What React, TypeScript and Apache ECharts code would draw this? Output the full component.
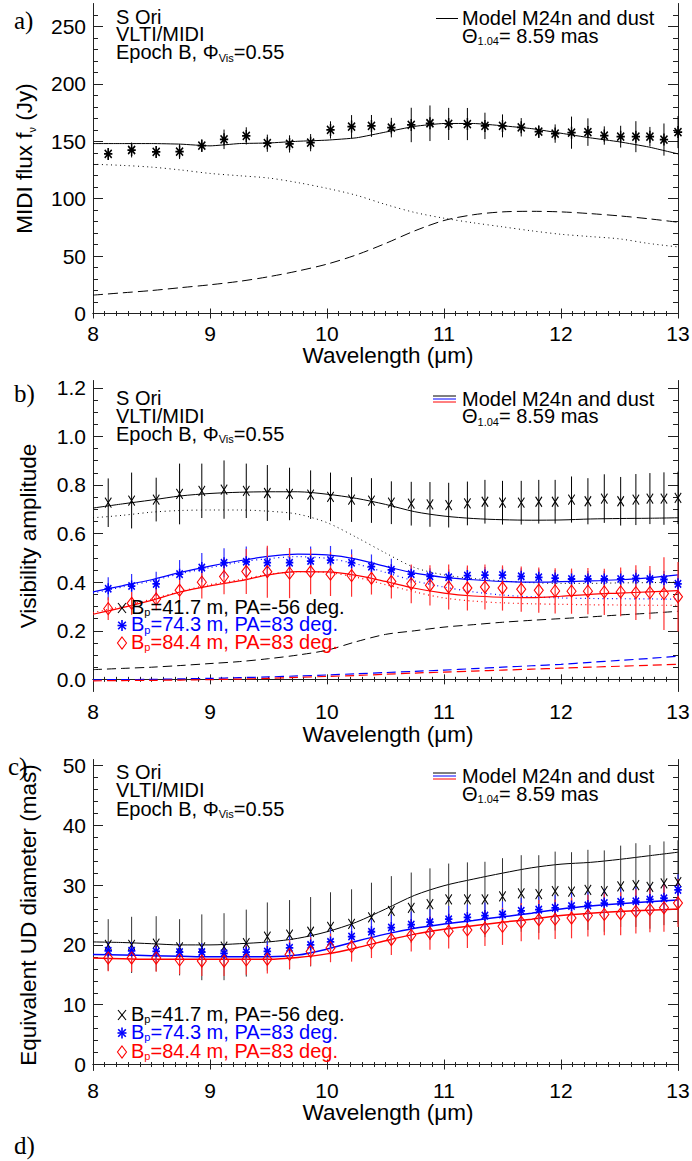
import React, { useEffect, useRef } from "react";
import * as echarts from "echarts";

const FONT = "Liberation Sans, Arial, Helvetica, sans-serif";
const SERIF = "Liberation Serif, Times New Roman, serif";

// Observed wavelengths (µm)
const wl = [8.13, 8.33, 8.54, 8.74, 8.93, 9.12, 9.31, 9.49, 9.68, 9.86, 10.03, 10.21, 10.38, 10.55, 10.72, 10.88, 11.04, 11.2, 11.35, 11.5, 11.66, 11.81, 11.95, 12.09, 12.23, 12.37, 12.51, 12.64, 12.76, 12.88, 13.0];

// Panel a: MIDI flux (Jy)
const fluxObs = [139, 142.4, 140.7, 141, 146.2, 151.7, 154.7, 148.3, 147.7, 148.8, 159.9, 162.8, 163.4, 161.9, 164.2, 165.7, 165.1, 165, 163.4, 163.4, 162.2, 158.4, 156.7, 157.5, 158, 155, 154, 154, 154, 151.5, 158];
const fluxErr = [5, 6.5, 5, 6.5, 5.5, 8.5, 7.5, 7.5, 7.5, 7.5, 7.5, 10, 9.5, 8.5, 15, 15.5, 14, 14, 11.5, 10, 8, 5.5, 8, 14, 12, 8, 9.5, 13.5, 8.5, 14, 14];

// Model wavelength grid (µm)
const mwl = [8.0, 8.25, 8.5, 8.75, 9.0, 9.25, 9.5, 9.75, 10.0, 10.25, 10.5, 10.75, 11.0, 11.25, 11.5, 11.75, 12.0, 12.25, 12.5, 12.75, 13.0];
const fluxModel = [148, 148, 148, 147.5, 146, 148, 148.5, 150, 151, 153, 158, 163, 165.5, 165.5, 163.5, 161, 157, 153, 149.5, 145, 139];
const fluxStar = [130, 129, 127.5, 125, 122, 120, 118, 114, 109, 103, 95, 88, 83, 79, 75.5, 72, 69, 67, 65, 61, 58];
const fluxDust = [16, 18, 20, 22.5, 25, 28, 32, 37, 43, 51, 61, 72, 81, 86, 88.5, 89, 88.5, 87, 85, 82.5, 79.5];

// Panel b: visibility amplitude
const visK = [0.727, 0.736, 0.74, 0.763, 0.776, 0.781, 0.776, 0.767, 0.763, 0.76, 0.751, 0.74, 0.736, 0.727, 0.723, 0.72, 0.717, 0.724, 0.731, 0.727, 0.727, 0.731, 0.731, 0.74, 0.733, 0.744, 0.733, 0.74, 0.744, 0.744, 0.747];
const visKErr = [0.1, 0.115, 0.09, 0.125, 0.112, 0.12, 0.112, 0.115, 0.108, 0.1, 0.1, 0.092, 0.092, 0.088, 0.09, 0.092, 0.092, 0.09, 0.09, 0.09, 0.09, 0.09, 0.09, 0.095, 0.095, 0.1, 0.1, 0.105, 0.105, 0.108, 0.108];
const visB = [0.373, 0.384, 0.393, 0.433, 0.46, 0.48, 0.484, 0.48, 0.48, 0.487, 0.491, 0.48, 0.464, 0.451, 0.433, 0.424, 0.42, 0.427, 0.429, 0.429, 0.424, 0.42, 0.417, 0.413, 0.413, 0.413, 0.413, 0.416, 0.413, 0.411, 0.393];
const visBErr = [0.047, 0.05, 0.05, 0.058, 0.06, 0.06, 0.063, 0.063, 0.06, 0.06, 0.058, 0.055, 0.05, 0.045, 0.035, 0.033, 0.033, 0.033, 0.033, 0.033, 0.033, 0.033, 0.033, 0.033, 0.033, 0.033, 0.033, 0.035, 0.035, 0.035, 0.04];
const visR = [0.291, 0.313, 0.331, 0.367, 0.4, 0.423, 0.444, 0.443, 0.437, 0.443, 0.433, 0.427, 0.416, 0.403, 0.393, 0.387, 0.38, 0.376, 0.38, 0.376, 0.371, 0.367, 0.364, 0.363, 0.363, 0.36, 0.36, 0.357, 0.357, 0.353, 0.34];
const visRErr = [0.047, 0.047, 0.047, 0.05, 0.067, 0.073, 0.093, 0.107, 0.103, 0.093, 0.09, 0.087, 0.067, 0.07, 0.08, 0.083, 0.093, 0.093, 0.093, 0.093, 0.093, 0.093, 0.093, 0.093, 0.095, 0.095, 0.1, 0.113, 0.11, 0.15, 0.143];

const visModelK = [0.705, 0.722, 0.738, 0.755, 0.765, 0.77, 0.772, 0.772, 0.762, 0.745, 0.72, 0.69, 0.672, 0.662, 0.657, 0.655, 0.656, 0.66, 0.662, 0.663, 0.665];
const visStarK = [0.665, 0.675, 0.688, 0.695, 0.697, 0.697, 0.692, 0.68, 0.645, 0.585, 0.52, 0.46, 0.43, 0.415, 0.405, 0.398, 0.395, 0.395, 0.397, 0.398, 0.4];
const visDustK = [0.04, 0.045, 0.05, 0.057, 0.065, 0.073, 0.085, 0.1, 0.12, 0.155, 0.185, 0.2, 0.215, 0.225, 0.235, 0.243, 0.25, 0.257, 0.265, 0.272, 0.28];
const visModelB = [0.36, 0.385, 0.41, 0.44, 0.466, 0.488, 0.506, 0.515, 0.512, 0.495, 0.465, 0.437, 0.42, 0.41, 0.403, 0.4, 0.402, 0.405, 0.41, 0.418, 0.43];
const visStarB = [0.355, 0.38, 0.405, 0.435, 0.46, 0.482, 0.497, 0.505, 0.498, 0.475, 0.44, 0.405, 0.38, 0.36, 0.347, 0.34, 0.335, 0.333, 0.332, 0.331, 0.33];
const visDustB = [-0.002, -0.001, 0.0, 0.002, 0.004, 0.007, 0.01, 0.014, 0.018, 0.023, 0.028, 0.033, 0.038, 0.044, 0.05, 0.056, 0.062, 0.07, 0.078, 0.086, 0.095];
const visModelR = [0.268, 0.295, 0.325, 0.36, 0.385, 0.405, 0.43, 0.443, 0.442, 0.428, 0.403, 0.375, 0.355, 0.343, 0.338, 0.336, 0.342, 0.35, 0.355, 0.36, 0.365];
const visStarR = [0.275, 0.3, 0.33, 0.362, 0.39, 0.41, 0.432, 0.443, 0.44, 0.42, 0.39, 0.36, 0.335, 0.322, 0.315, 0.311, 0.309, 0.307, 0.306, 0.305, 0.305];
const visDustR = [-0.006, -0.005, -0.004, -0.003, -0.001, 0.001, 0.004, 0.008, 0.012, 0.016, 0.021, 0.026, 0.03, 0.034, 0.038, 0.042, 0.046, 0.05, 0.054, 0.058, 0.062];

// Panel c: equivalent UD diameter (mas)
const udK = [20, 20, 20.2, 19.6, 19.6, 19.7, 20.3, 21.4, 21.7, 22.2, 23, 23.5, 24.6, 25.7, 26.2, 26.8, 27.6, 27.6, 27.6, 28.1, 28.6, 28.5, 29, 28.9, 29.2, 29, 29.8, 30, 29.7, 30.3, 30.5];
const udKErr = [4.3, 4.7, 4.6, 4.7, 5.5, 5.6, 5.6, 5.7, 5.8, 5.8, 5.8, 5.8, 5.8, 5.8, 5.9, 6, 6, 6.2, 6.3, 6.4, 6.4, 6.5, 6.6, 6.6, 6.7, 6.8, 6.8, 7, 7, 7, 7];
const udB = [19, 19, 18.9, 18.8, 18.8, 18.6, 18.8, 18.9, 19.5, 20, 20.5, 21.4, 22.2, 22.9, 23.4, 23.8, 24.3, 24.6, 24.9, 25.1, 25.7, 25.9, 26.2, 26.5, 26.6, 27, 27.2, 27.3, 27.6, 27.8, 29.2];
const udBErr = [1.5, 1.5, 1.5, 1.5, 1.5, 1.5, 1.6, 1.7, 1.9, 2.1, 2.2, 2.2, 2.2, 2.2, 2.2, 2.2, 2.2, 2.2, 2.2, 2.2, 2.2, 2.2, 2.2, 2.2, 2.3, 2.3, 2.3, 2.4, 2.4, 2.5, 2.6];
const udR = [17.8, 17.8, 17.8, 17.5, 17.3, 17.3, 17.5, 17.6, 18.4, 18.9, 19.5, 19.7, 20.3, 20.9, 21.6, 22, 22.3, 22.5, 22.8, 23.1, 23.8, 24.2, 24.3, 24.5, 24.9, 25.1, 25.2, 25.6, 25.9, 26.2, 27];
const udRErr = [2.2, 2.3, 2.3, 2.4, 2.5, 2.5, 2.5, 2.4, 2.4, 2.4, 2.4, 2.5, 2.5, 2.6, 2.7, 2.8, 2.9, 3, 3, 3.1, 3.2, 3.3, 3.3, 3.4, 3.5, 3.5, 3.6, 3.7, 3.8, 4, 4];
const udModelK = [20.5, 20.4, 20.2, 20.0, 20.0, 20.2, 20.5, 21.1, 22.2, 23.8, 26.0, 28.3, 29.9, 31.0, 32.0, 32.9, 33.5, 33.8, 34.3, 34.9, 35.5];
const udModelB = [18.4, 18.3, 18.2, 18.1, 18.0, 18.0, 18.0, 18.3, 19.3, 20.6, 21.8, 22.8, 23.5, 24.1, 24.7, 25.3, 26.0, 26.5, 26.9, 27.2, 27.5];
const udModelR = [17.8, 17.7, 17.6, 17.6, 17.6, 17.6, 17.6, 17.9, 18.5, 19.5, 20.7, 21.8, 22.6, 23.2, 23.8, 24.3, 24.9, 25.3, 25.6, 25.8, 26.0];

// Tick values
const ticksAMajor = [0, 50, 100, 150, 200, 250];
const ticksBMajor = [0, 0.2, 0.4, 0.6, 0.8, 1.0, 1.2];
const ticksCMajor = [0, 10, 20, 30, 40, 50];

const BLUE = "#0000ff";
const RED = "#ff0000";
const BLACK = "#000000";
const AXC = "#222222";

const STAR = "path://M5,0L5,12M0,6L10,6M0.8,2L9.2,10M0.8,10L9.2,2";
const XMARK = "path://M0,0L8,10M0,10L8,0";

function minorTicks(lo: number, hi: number, step: number, majorStep: number) {
  const out: number[] = [];
  const n = Math.round((hi - lo) / step);
  for (let i = 0; i <= n; i++) {
    const v = +(lo + i * step).toFixed(4);
    const r = v / majorStep;
    if (Math.abs(r - Math.round(r)) > 1e-6) out.push(v);
  }
  return out;
}

export default function App() {
  const ref = useRef<HTMLDivElement>(null);

  useEffect(() => {
    document.body.style.margin = "0";
    const el = ref.current!;
    const chart = echarts.init(el, null, { renderer: "svg" });

    const grids = [
      { left: 93, width: 585, top: 3.5, height: 310, outerBoundsMode: "none" },
      { left: 93, width: 585, top: 380.5, height: 311, outerBoundsMode: "none" },
      { left: 93, width: 585, top: 759.5, height: 311, outerBoundsMode: "none" },
    ];

    const axLine = { show: true, lineStyle: { color: AXC, width: 1 } };
    const xAxes: any[] = [];
    for (let g = 0; g < 3; g++) {
      const base = {
        gridIndex: g, type: "value", min: 8, max: 13, interval: 1,
        splitLine: { show: false }, minorSplitLine: { show: false },
        axisLine: axLine,
        axisTick: { show: true, inside: true, length: 5, lineStyle: { color: AXC, width: 1 } },
        minorTick: { show: true, splitNumber: 10, length: 2.5, lineStyle: { color: AXC, width: 1 } },
      };
      xAxes.push({
        ...base, position: "bottom",
        axisLabel: { show: true, fontSize: 21, lineHeight: 21, color: BLACK, fontFamily: FONT, margin: 9 },
      });
      xAxes.push({ ...base, position: "top", axisLabel: { show: false } });
    }

    const yAxes: any[] = [];
    const ySpecs = [
      { min: 0, max: 270, majors: ticksAMajor, minors: minorTicks(0, 260, 10, 50), fmt: (v: number) => String(Math.round(v)) },
      { min: -0.05, max: 1.23, majors: ticksBMajor, minors: minorTicks(0, 1.2, 0.05, 0.2), fmt: (v: number) => v.toFixed(1) },
      { min: -1, max: 51, majors: ticksCMajor, minors: minorTicks(0, 50, 2, 10), fmt: (v: number) => String(Math.round(v)) },
    ];
    ySpecs.forEach((s, g) => {
      const base = { gridIndex: g, type: "value", min: s.min, max: s.max, splitLine: { show: false } };
      yAxes.push({
        ...base, position: "left", axisLine: axLine,
        axisTick: { show: true, inside: true, length: 10, customValues: s.majors, lineStyle: { color: AXC, width: 1 } },
        axisLabel: { show: true, customValues: s.majors, formatter: s.fmt, fontSize: 21, color: BLACK, fontFamily: FONT, margin: 7 },
      });
      yAxes.push({
        ...base, position: "left", axisLine: { show: false },
        axisTick: { show: true, inside: true, length: 5, customValues: s.minors, lineStyle: { color: AXC, width: 1 } },
        axisLabel: { show: false, customValues: s.minors },
      });
      yAxes.push({
        ...base, position: "right", axisLine: axLine,
        axisTick: { show: true, inside: true, length: 10, customValues: s.majors, lineStyle: { color: AXC, width: 1 } },
        axisLabel: { show: false, customValues: s.majors },
      });
      yAxes.push({
        ...base, position: "right", axisLine: { show: false },
        axisTick: { show: true, inside: true, length: 5, customValues: s.minors, lineStyle: { color: AXC, width: 1 } },
        axisLabel: { show: false, customValues: s.minors },
      });
    });

    const series: any[] = [];
    const line = (g: number, ys: number[], color: string, type: any, width = 1, smooth = 0.3) => {
      series.push({
        type: "line", xAxisIndex: 2 * g, yAxisIndex: 4 * g,
        data: mwl.map((x, i) => [x, ys[i]]),
        symbol: "none", smooth, silent: true, z: 2,
        lineStyle: { color, width, type },
      });
    };
    const errs = (g: number, vals: number[], err: number[], color: string, width = 1) => {
      series.push({
        type: "custom", xAxisIndex: 2 * g, yAxisIndex: 4 * g, silent: true, z: 3,
        data: wl.map((x, i) => [x, vals[i] - err[i], vals[i] + err[i]]),
        encode: { x: 0, y: [1, 2] },
        renderItem: (params: any, api: any) => {
          const p1 = api.coord([api.value(0), api.value(1)]);
          const p2 = api.coord([api.value(0), api.value(2)]);
          return {
            type: "line",
            shape: { x1: p1[0], y1: p1[1], x2: p2[0], y2: p2[1] },
            style: { stroke: color, lineWidth: width },
          };
        },
      });
    };
    const pts = (g: number, vals: number[], symbol: string, size: any, color: string, bw: number) => {
      series.push({
        type: "scatter", xAxisIndex: 2 * g, yAxisIndex: 4 * g, silent: true, z: 5,
        data: wl.map((x, i) => [x, vals[i]]),
        symbol, symbolSize: size, symbolKeepAspect: true,
        itemStyle: { color: "transparent", borderColor: color, borderWidth: bw, opacity: 1 },
      });
    };

    // Panel a
    line(0, fluxModel, BLACK, "solid", 1, 0.15);
    line(0, fluxStar, BLACK, [1, 3.5], 1, 0.3);
    line(0, fluxDust, BLACK, [10, 5], 1, 0.3);
    errs(0, fluxObs, fluxErr, BLACK, 1);
    pts(0, fluxObs, STAR, [10, 12], BLACK, 1.6);

    // Panel b
    line(1, visModelK, BLACK, "solid", 1);
    line(1, visStarK, BLACK, [1, 3.5], 1);
    line(1, visDustK, BLACK, [9, 5], 1);
    line(1, visModelB, BLUE, "solid", 1.2);
    line(1, visStarB, BLUE, [1, 3.5], 1.2);
    line(1, visDustB, BLUE, [9, 5], 1.2);
    line(1, visModelR, RED, "solid", 1.2);
    line(1, visStarR, RED, [1, 3.5], 1.2);
    line(1, visDustR, RED, [9, 5], 1.2);
    errs(1, visK, visKErr, BLACK, 1);
    errs(1, visB, visBErr, "#3030ff", 1.2);
    errs(1, visR, visRErr, "#ff3030", 1.2);
    pts(1, visK, XMARK, [8, 10], BLACK, 1.1);
    pts(1, visB, STAR, [9, 11], BLUE, 1.6);
    pts(1, visR, "diamond", [9, 12], RED, 1.1);

    // Panel c
    line(2, udModelK, BLACK, "solid", 1);
    line(2, udModelB, BLUE, "solid", 1.5);
    line(2, udModelR, RED, "solid", 1.5);
    errs(2, udK, udKErr, "#333333", 1);
    errs(2, udB, udBErr, "#3030ff", 1.2);
    errs(2, udR, udRErr, "#ff3030", 1.2);
    pts(2, udK, XMARK, [8, 10], BLACK, 1.1);
    pts(2, udB, STAR, [9, 11], BLUE, 1.6);
    pts(2, udR, "diamond", [9, 12], RED, 1.1);

    // Graphic texts and legend decorations
    const rich = (color: string, size: number) => ({
      m: { fontSize: size, fontFamily: FONT, lineHeight: 17, verticalAlign: "bottom", fill: color },
      s: { fontSize: 11, fontFamily: FONT, lineHeight: 17, verticalAlign: "bottom", fill: color, padding: [0, 0, -1, 0] },
    });
    const txt = (x: number, y: number, text: string, color = BLACK, extra: any = {}, size = 20) => ({
      type: "text", x, y, z: 100, silent: true, ...extra,
      style: {
        text, fill: color, fontSize: size, fontFamily: FONT,
        align: extra.align || "left", verticalAlign: "middle", rich: rich(color, size),
      },
    });
    const gl = (x1: number, y1: number, x2: number, y2: number, color: string, w = 1) => ({
      type: "line", z: 100, silent: true,
      shape: { x1, y1, x2, y2 }, style: { stroke: color, lineWidth: w },
    });
    const xSym = (cx: number, cy: number) => [gl(cx - 4, cy - 5, cx + 4, cy + 5, BLACK, 1.1), gl(cx - 4, cy + 5, cx + 4, cy - 5, BLACK, 1.1)];
    const starSym = (cx: number, cy: number, c: string) => [
      gl(cx, cy - 5.5, cx, cy + 5.5, c, 1.6), gl(cx - 4.5, cy, cx + 4.5, cy, c, 1.6),
      gl(cx - 3.8, cy - 3.8, cx + 3.8, cy + 3.8, c, 1.6), gl(cx - 3.8, cy + 3.8, cx + 3.8, cy - 3.8, c, 1.6),
    ];
    const diaSym = (cx: number, cy: number) => ({
      type: "polygon", z: 100, silent: true,
      shape: { points: [[cx, cy - 6], [cx + 4.5, cy], [cx, cy + 6], [cx - 4.5, cy]] },
      style: { fill: "none", stroke: RED, lineWidth: 1.1 },
    });

    const elements: any[] = [];
    const plab = (x: number, y: number, t: string) => ({
      type: "text", x, y, z: 100, silent: true,
      style: { text: t, fill: BLACK, fontSize: 25, fontFamily: SERIF, align: "left", verticalAlign: "middle" },
    });
    elements.push(plab(14, 20, "a)"), plab(14, 393, "b)"), plab(8, 766, "c)"), plab(14, 1145, "d)"));

    const infoY = [[18.5, 35.5, 53.5], [399.5, 417, 435], [773.5, 791, 810]];
    infoY.forEach((ys) => {
      elements.push(txt(116, ys[0], "{m|S Ori}"));
      elements.push(txt(116, ys[1], "{m|VLTI/MIDI}"));
      elements.push(txt(116, ys[2], "{m|Epoch B, Φ}{s|Vis}{m|=0.55}"));
    });
    const modelY = [[19, 37], [400, 417.5], [777, 795]];
    modelY.forEach((ys, g) => {
      elements.push(txt(462, ys[0], "{m|Model M24n and dust}"));
      elements.push(txt(462, ys[1], "{m|Θ}{s|1.04}{m|= 8.59 mas}"));
      if (g === 0) {
        elements.push(gl(436, ys[0] - 0.5, 458, ys[0] - 0.5, BLACK));
      } else {
        elements.push(gl(433, ys[0] - 4, 456, ys[0] - 4, BLACK));
        elements.push(gl(433, ys[0] - 1, 456, ys[0] - 1, BLUE));
        elements.push(gl(433, ys[0] + 2, 456, ys[0] + 2, RED));
      }
    });
    const legY = [[608, 625.5, 643], [1015, 1033, 1052]];
    legY.forEach((ys) => {
      elements.push(...xSym(122, ys[0]));
      elements.push(...starSym(122, ys[1], BLUE));
      elements.push(diaSym(122, ys[2]));
      elements.push(txt(131, ys[0], "{m|B}{s|p}{m|=41.7 m, PA=-56 deg.}", BLACK));
      elements.push(txt(131, ys[1], "{m|B}{s|p}{m|=74.3 m, PA=83 deg.}", BLUE));
      elements.push(txt(131, ys[2], "{m|B}{s|p}{m|=84.4 m, PA=83 deg.}", RED));
    });
    // axis titles
    [358, 737, 1115].forEach((y) => elements.push(txt(388, y, "{m|Wavelength (μm)}", BLACK, { align: "center" }, 22.5)));
    elements.push(txt(27.5, 158.5, "{m|MIDI flux f}{s|ν}{m| (Jy)}", BLACK, { align: "center", rotation: Math.PI / 2 }, 22.5));
    elements.push(txt(31, 536, "{m|Visibility amplitude}", BLACK, { align: "center", rotation: Math.PI / 2 }, 22.5));
    elements.push(txt(31, 915, "{m|Equivalent UD diameter (mas)}", BLACK, { align: "center", rotation: Math.PI / 2 }, 22.5));

    chart.setOption({
      animation: false,
      backgroundColor: "#ffffff",
      grid: grids,
      xAxis: xAxes,
      yAxis: yAxes,
      series,
      graphic: { elements },
    });

    return () => chart.dispose();
  }, []);

  return <div ref={ref} style={{ width: 692, height: 1161 }} />;
}
